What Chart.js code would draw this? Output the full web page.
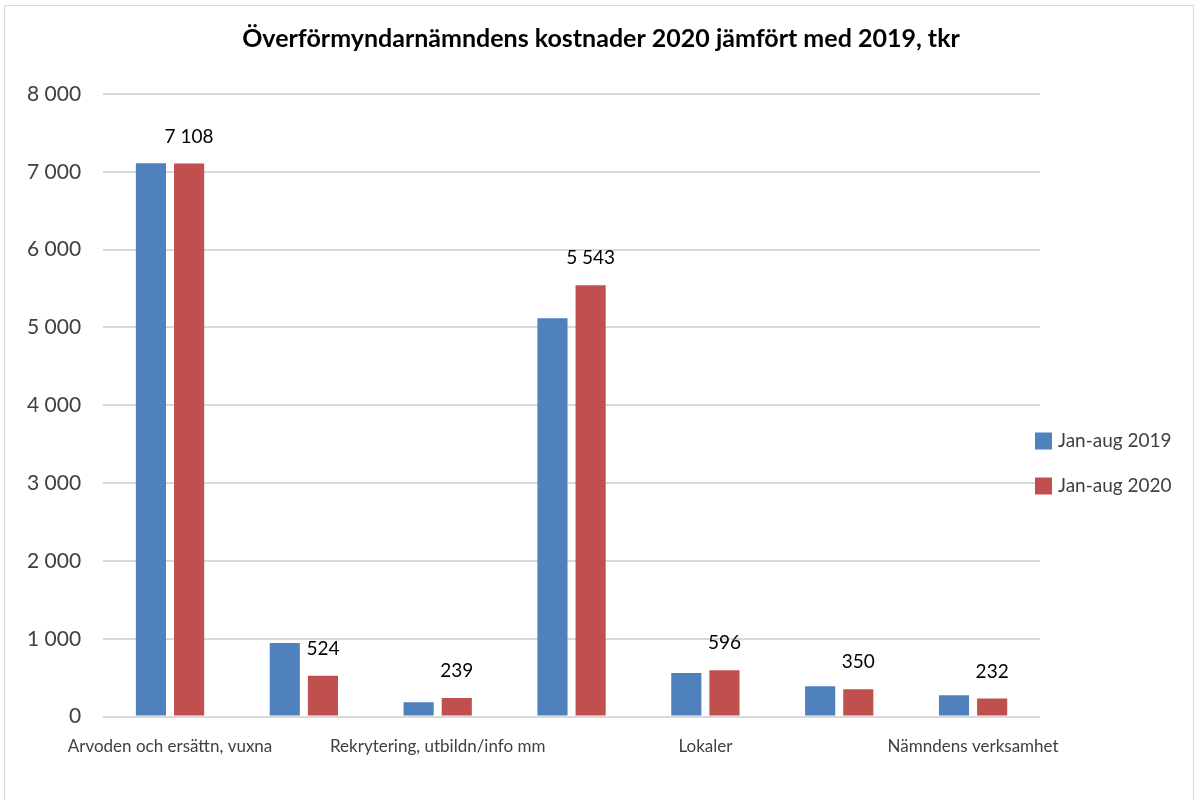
<!DOCTYPE html>
<html>
<head>
<meta charset="utf-8">
<script src="https://cdn.jsdelivr.net/npm/chart.js@4"></script>
<style>
  body { margin: 0; background: #fff; }
  #wrap { position: absolute; left: 0; top: 0; width: 1197px; height: 800px; }
  #frame { position: absolute; left: 4px; top: 5px; width: 1188px; height: 800px; border: 1px solid #d9d9d9; pointer-events: none; }
</style>
</head>
<body>
<div id="wrap"><canvas id="barChart" width="1197" height="800"></canvas></div>
<div id="frame"></div>
<script>
// categories (the odd ones are not printed on the axis in the original)
var categories = ['Arvoden och ersättn, vuxna', '', 'Rekrytering, utbildn/info mm', '', 'Lokaler', '', 'Nämndens verksamhet'];
var values2019 = [7110, 945, 185, 5120, 560, 390, 275];
var values2020 = [7108, 524, 239, 5543, 596, 350, 232];
var yTicks = [0, 1000, 2000, 3000, 4000, 5000, 6000, 7000, 8000];

function fmt(n) {
  return String(n).replace(/\B(?=(\d{3})+(?!\d))/g, ' ');
}

// value labels above the 2020 bars
var valueLabels = {
  id: 'valueLabels',
  afterDatasetsDraw: function(chart) {
    var ctx = chart.ctx;
    var meta = chart.getDatasetMeta(1);
    ctx.save();
    ctx.font = '19px Lato';
    ctx.fillStyle = '#000';
    ctx.textAlign = 'center';
    ctx.textBaseline = 'middle';
    meta.data.forEach(function(bar, i) {
      ctx.fillText(fmt(values2020[i]), bar.x, bar.y - 27);
    });
    ctx.restore();
  }
};

// legend drawn by hand so it can sit close to the plot like in Excel
var sideLegend = {
  id: 'sideLegend',
  afterDraw: function(chart) {
    var ctx = chart.ctx;
    var x = chart.chartArea.right - 5;
    var y = chart.height / 2 + 41;
    ctx.save();
    ctx.font = '19px Lato';
    ctx.textBaseline = 'middle';
    chart.data.datasets.forEach(function(ds, i) {
      var cy = y + i * 45;
      ctx.fillStyle = ds.backgroundColor;
      ctx.fillRect(x, cy - 8.5, 17, 17);
      ctx.fillStyle = '#404040';
      ctx.fillText(ds.label, x + 23, cy);
    });
    ctx.restore();
  }
};

function BuildBarChart() {
  var ctx = document.getElementById("barChart");
  var barChart = new Chart(ctx, {
    type: 'bar',
    data: {
      labels: categories,
      datasets: [{
        label: 'Jan-aug 2019',
        data: values2019,
        backgroundColor: '#4F81BD'
      }, {
        label: 'Jan-aug 2020',
        data: values2020,
        backgroundColor: '#C0504D'
      }]
    },
    options: {
      responsive: false,
      animation: false,
      layout: { padding: { left: 5, right: 0, bottom: 31 } },
      barPercentage: 0.79,
      categoryPercentage: 0.57,
      plugins: {
        title: {
          display: true,
          text: 'Överförmyndarnämndens kostnader 2020 jämfört med 2019, tkr',
          font: { family: 'Lato', size: 25, weight: 'bold' },
          color: '#000',
          padding: { top: 24, bottom: 40 }
        },
        legend: { display: false },
        tooltip: { enabled: false }
      },
      scales: {
        x: {
          grid: { display: false },
          border: { display: false },
          ticks: {
            autoSkip: false,
            maxRotation: 0,
            padding: 12,
            color: '#404040',
            font: { family: 'Lato', size: 17 }
          }
        },
        y: {
          min: 0,
          max: 8000,
          afterBuildTicks: function(axis) {
            axis.ticks = yTicks.map(function(v) { return { value: v }; });
          },
          grid: { color: '#d9d9d9', lineWidth: 2, drawTicks: false },
          border: { display: false },
          ticks: {
            padding: 22,
            color: '#404040',
            font: { family: 'Lato', size: 21 },
            callback: function(v) { return fmt(v); }
          }
        },
        // empty right axis, only keeps room for the legend
        yRight: {
          position: 'right',
          grid: { display: false },
          border: { display: false },
          ticks: { display: false },
          afterFit: function(axis) { axis.width = 157; }
        }
      }
    },
    plugins: [valueLabels, sideLegend]
  });
}

BuildBarChart();
</script>
</body>
</html>
